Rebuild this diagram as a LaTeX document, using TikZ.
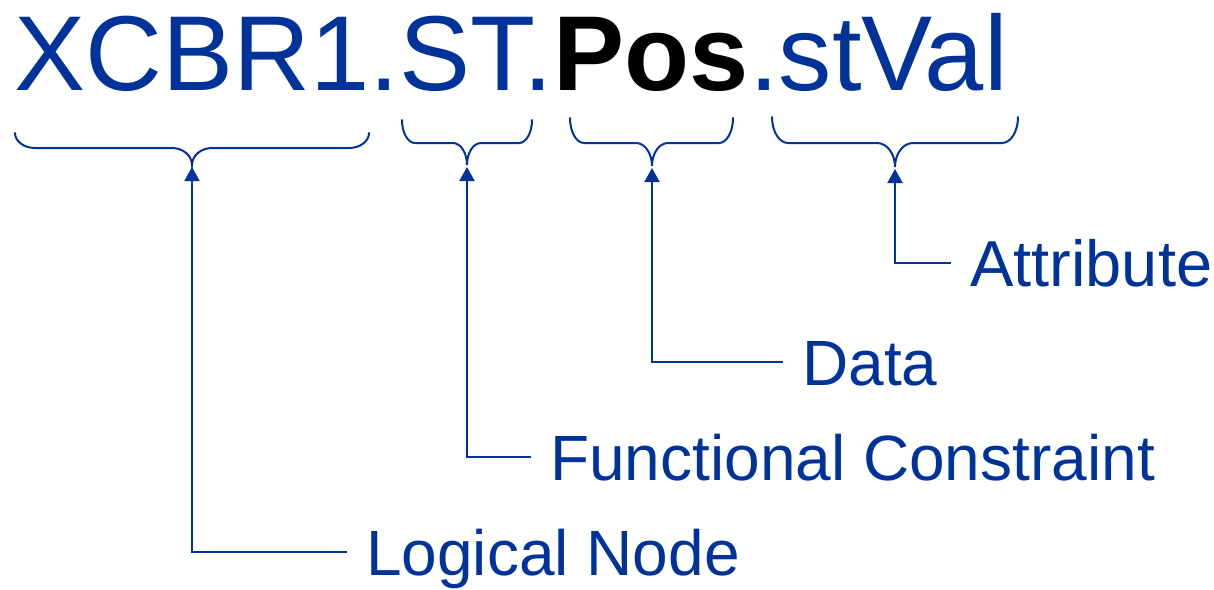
\documentclass[tikz,border=0pt]{standalone}
\usepackage{fontspec}
\setmainfont{Liberation Sans}
\usetikzlibrary{arrows.meta}
\definecolor{iecblue}{RGB}{0,51,153}
% #1 left x, #2 right x, #3 top y, #4 bar y, #5 tip x, #6 tip y, #7 end radius, #8 middle radius
\newcommand{\iecbr}[8]{%
  \draw[brace] (#1,#3) .. controls (#1,{#3+0.552*(#4-#3)}) and ({#1+0.448*#7},#4) .. ({#1+#7},#4)
    -- ({#5-#8},#4) .. controls ({#5-0.448*#8},#4) and (#5,{#6-0.552*(#6-#4)}) .. (#5,#6)
    .. controls (#5,{#6-0.552*(#6-#4)}) and ({#5+0.448*#8},#4) .. ({#5+#8},#4)
    -- ({#2-#7},#4) .. controls ({#2-0.448*#7},#4) and (#2,{#3+0.552*(#4-#3)}) .. (#2,#3);}
\begin{document}
\begin{tikzpicture}[x=1pt,y=-1pt,
  big/.style={inner sep=0pt, anchor=base west, text=iecblue, font=\fontsize{106.5}{112}\selectfont},
  bigbold/.style={big, text=black, font=\fontsize{106.5}{112}\selectfont\bfseries},
  lab/.style={anchor=west, inner xsep=19pt, inner ysep=0pt, text height=46pt, text depth=0pt, text=iecblue, font=\fontsize{64}{70}\selectfont},
  brace/.style={draw=iecblue, line width=2pt, line cap=round},
  conn/.style={draw=iecblue, line width=2pt, -{Triangle[width=15pt,length=14pt]}}]
\useasboundingbox (0,0) rectangle (1214,589);

% name string
\node[big] (xcbr) at (14,90) {XCBR1.};
\node[big] (st) at (xcbr.base east) {ST.};
\node[bigbold] (pos) at (st.base east) {Pos};
\node[big] (stval) at (pos.base east) {.stVal};

% braces
\iecbr{15}{369}{133}{148}{192}{165}{20}{20}
\iecbr{402}{532}{120}{143}{467}{165}{13}{14}
\iecbr{570}{733}{118}{143}{652}{166}{14}{16}
\iecbr{772}{1018}{117}{143}{895}{167}{16}{18}

% brace tips
\coordinate (t1) at (192,167);
\coordinate (t2) at (467,167);
\coordinate (t3) at (652,168);
\coordinate (t4) at (895,169);

% labels
\node[lab] (ln) at (347,552) {Logical Node};
\node[lab] (fc) at (531,457) {Functional Constraint};
\node[lab] (da) at (783,362) {Data};
\node[lab, font=\fontsize{65}{70}\selectfont] (at) at (951,263) {Attribute};

% connectors
\draw[conn] (ln.west) -| (t1);
\draw[conn] (fc.west) -| (t2);
\draw[conn] (da.west) -| (t3);
\draw[conn] (at.west) -| (t4);
\end{tikzpicture}
\end{document}
